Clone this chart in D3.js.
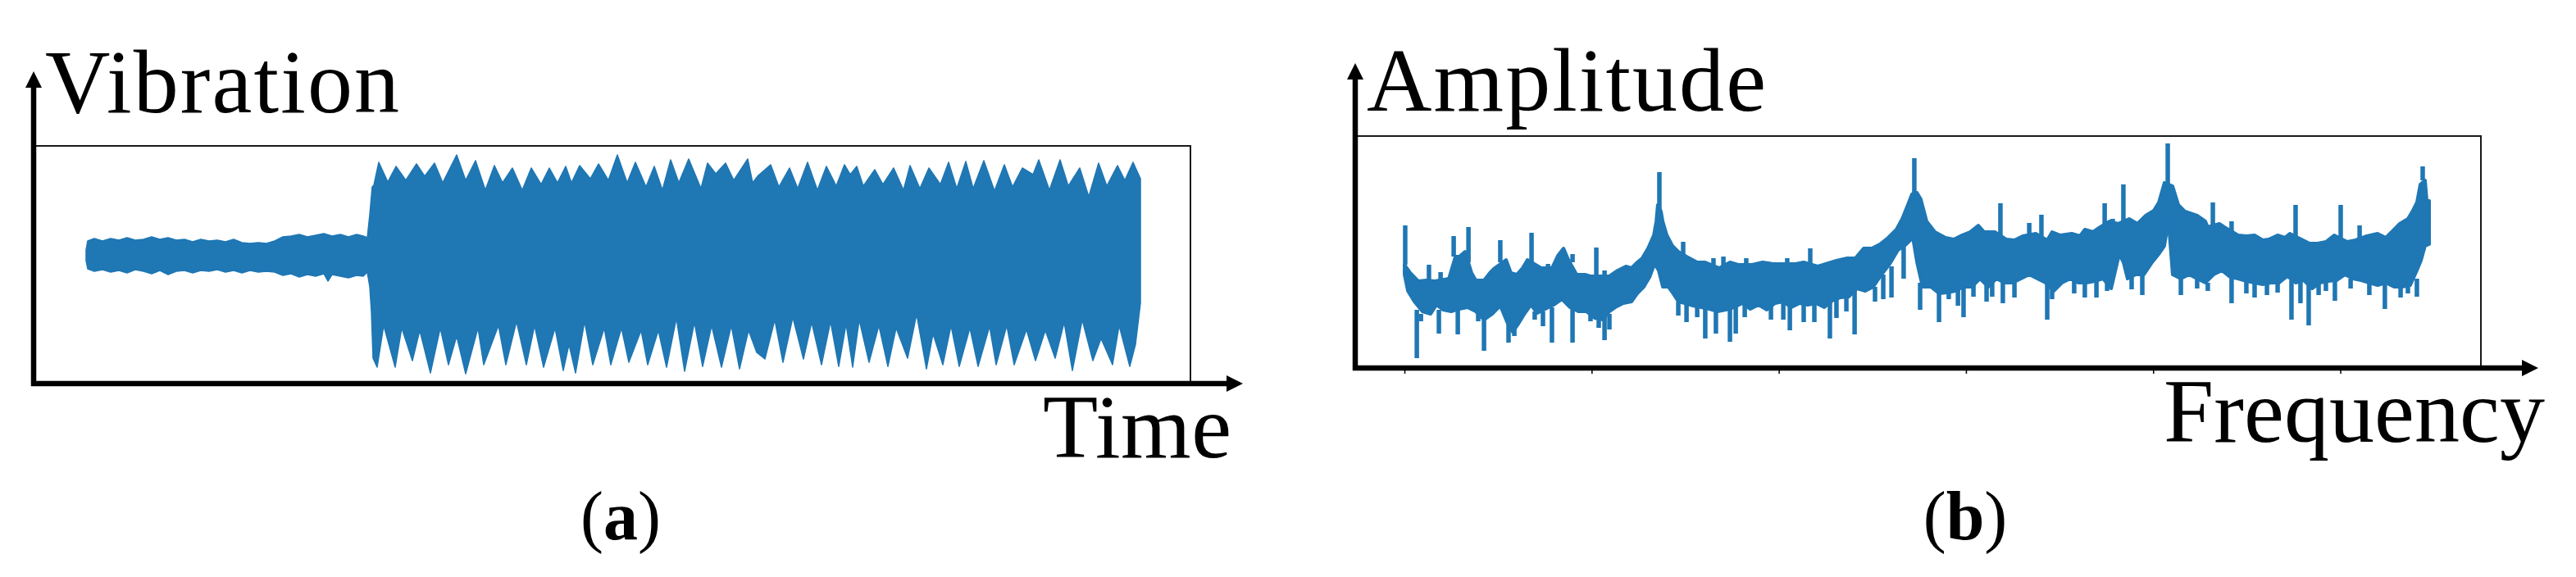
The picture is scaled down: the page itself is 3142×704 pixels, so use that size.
<!DOCTYPE html>
<html lang="en">
<head>
<meta charset="utf-8">
<title>Vibration signal and spectrum</title>
<script src="https://cdn.jsdelivr.net/npm/d3@7"></script>
<style>
	body { margin: 0; background: #fff; }
	text { fill: #000; }
	.frame { fill: none; stroke: #1a1a1a; stroke-width: 2; }
	.axisline { stroke: #000; stroke-width: 6.5; }
	.signal { fill: #1f77b4; stroke: #1f77b4; stroke-width: 1.5; stroke-linejoin: round; }
	.band { fill: #1f77b4; stroke: #1f77b4; stroke-width: 4; stroke-linejoin: round; }
	.spike { stroke: #1f77b4; stroke-width: 5.5; }
</style>
</head>
<body>
<script>

//Panel (a): vibration envelope, [time s, amplitude]
var vibUpper = [[0.00,0.16],[0.02,0.27],[0.10,0.30],[0.20,0.27],[0.30,0.30],[0.40,0.28],[0.50,0.31],[0.60,0.28],[0.70,0.29],[0.80,0.32],[0.90,0.29],[1.00,0.31],[1.10,0.28],[1.20,0.29],[1.30,0.26],[1.40,0.29],[1.50,0.27],[1.60,0.28],[1.70,0.26],[1.80,0.29],[1.90,0.25],[2.00,0.24],[2.10,0.25],[2.20,0.24],[2.30,0.27],[2.40,0.32],[2.50,0.33],[2.60,0.35],[2.70,0.32],[2.80,0.34],[2.90,0.36],[3.00,0.33],[3.10,0.35],[3.20,0.32],[3.30,0.35],[3.38,0.33],[3.43,0.31],
	[3.46,0.59],[3.49,0.93],[3.51,0.95],[3.57,1.23],[3.68,0.99],[3.78,1.18],[3.90,1.01],[4.03,1.21],[4.13,1.06],[4.25,1.22],[4.35,0.98],[4.52,1.32],[4.63,1.01],[4.75,1.25],[4.87,0.89],[4.98,1.19],[5.08,0.98],[5.20,1.16],[5.32,0.89],[5.43,1.16],[5.55,0.96],[5.65,1.16],[5.75,0.98],[5.85,1.18],[5.92,0.98],[6.02,1.19],[6.15,1.03],[6.25,1.21],[6.37,1.01],[6.48,1.32],[6.60,0.98],[6.70,1.23],[6.83,0.93],[6.93,1.18],[7.03,0.89],[7.13,1.26],[7.23,0.98],[7.35,1.27],[7.50,0.91],[7.58,1.22],[7.68,1.09],[7.80,1.22],[7.90,1.01],[8.07,1.27],[8.13,0.98],[8.20,1.07],[8.35,1.20],[8.45,0.93],[8.58,1.16],[8.68,0.91],[8.80,1.23],[8.92,0.89],[9.03,1.18],[9.15,0.94],[9.25,1.20],[9.32,1.08],[9.40,1.18],[9.48,0.94],[9.62,1.14],[9.72,0.96],[9.85,1.16],[9.97,0.89],[10.05,1.19],[10.17,0.91],[10.28,1.16],[10.42,0.96],[10.52,1.23],[10.62,0.91],[10.73,1.24],[10.82,0.91],[10.95,1.25],[11.08,0.88],[11.20,1.20],[11.30,0.93],[11.42,1.16],[11.55,1.08],[11.62,1.26],[11.75,0.89],[11.88,1.26],[11.98,0.94],[12.12,1.16],[12.23,0.81],[12.35,1.22],[12.45,0.94],[12.58,1.19],[12.67,1.01],[12.77,1.23],[12.86,1.03]];

var vibLower = [[0.00,0.03],[0.02,-0.07],[0.10,-0.10],[0.20,-0.08],[0.30,-0.11],[0.40,-0.09],[0.50,-0.12],[0.60,-0.08],[0.70,-0.10],[0.80,-0.13],[0.90,-0.09],[1.00,-0.14],[1.10,-0.10],[1.20,-0.09],[1.30,-0.12],[1.40,-0.09],[1.50,-0.10],[1.60,-0.08],[1.70,-0.11],[1.80,-0.09],[1.90,-0.12],[2.00,-0.09],[2.10,-0.11],[2.20,-0.10],[2.30,-0.11],[2.40,-0.15],[2.50,-0.13],[2.60,-0.17],[2.70,-0.14],[2.80,-0.16],[2.90,-0.13],[2.95,-0.22],[3.00,-0.14],[3.10,-0.16],[3.20,-0.18],[3.30,-0.15],[3.38,-0.16],[3.43,-0.11],
	[3.46,-0.29],[3.48,-0.59],[3.50,-1.16],[3.55,-1.27],[3.63,-0.76],[3.77,-1.27],[3.85,-0.79],[3.98,-1.19],[4.07,-0.82],[4.20,-1.34],[4.32,-0.79],[4.42,-1.24],[4.52,-0.89],[4.63,-1.35],[4.78,-0.79],[4.85,-1.24],[5.03,-0.76],[5.12,-1.24],[5.25,-0.71],[5.37,-1.24],[5.47,-0.76],[5.58,-1.27],[5.72,-0.79],[5.82,-1.31],[5.89,-0.99],[5.97,-1.34],[6.08,-0.71],[6.18,-1.24],[6.32,-0.79],[6.40,-1.24],[6.53,-0.79],[6.62,-1.21],[6.77,-0.82],[6.85,-1.24],[6.98,-0.82],[7.08,-1.27],[7.20,-0.67],[7.30,-1.32],[7.42,-0.72],[7.52,-1.26],[7.63,-0.76],[7.75,-1.27],[7.87,-0.76],[7.97,-1.29],[8.08,-0.82],[8.18,-1.09],[8.28,-1.17],[8.40,-0.69],[8.50,-1.21],[8.62,-0.66],[8.75,-1.17],[8.85,-0.72],[8.97,-1.24],[9.08,-0.71],[9.18,-1.26],[9.27,-0.74],[9.35,-1.27],[9.43,-0.69],[9.55,-1.21],[9.67,-0.76],[9.78,-1.26],[9.88,-0.79],[10.02,-1.16],[10.13,-0.62],[10.25,-1.29],[10.33,-0.86],[10.45,-1.24],[10.55,-0.76],[10.65,-1.26],[10.78,-0.79],[10.88,-1.26],[11.02,-0.77],[11.10,-1.24],[11.23,-0.76],[11.32,-1.24],[11.47,-0.81],[11.58,-1.19],[11.70,-0.82],[11.82,-1.16],[11.93,-0.72],[12.03,-1.31],[12.15,-0.69],[12.28,-1.19],[12.38,-0.92],[12.52,-1.24],[12.60,-0.76],[12.73,-1.26],[12.80,-0.99],[12.86,-0.49]];

//Panel (b): spectrum band, [frequency Hz, amplitude dB]
var specTop = [[0,12.6],[31,11.6],[74,10.6],[118,10.7],[162,10.6],[237,10.9],[272,13.6],[293,13.6],[324,14.2],[359,11.6],[381,10.7],[425,10.7],[456,11.6],[482,12.2],[543,13.2],[569,11.6],[600,11.4],[631,12.2],[657,13.2],[701,12.6],[731,12.2],[788,12.2],[819,13.7],[850,14.6],[876,13.2],[920,11.4],[964,11.4],[994,11.2],[1047,11.2],[1095,11.2],[1139,11.9],[1183,12.4],[1213,12.2],[1244,12.9],[1270,13.4],[1301,14.6],[1332,16.2],[1345,17.9],[1353,19.9],[1371,19.1],[1380,17.9],[1402,16.2],[1432,14.9],[1463,14.2],[1507,13.6],[1564,12.9],[1607,12.9],[1682,12.2],[1739,12.9],[1783,12.6],[1857,12.6],[1914,12.9],[1971,12.7],[2045,12.7],[2089,12.7],[2133,12.9],[2208,12.4],[2308,13.1],[2365,13.4],[2409,13.4],[2453,14.6],[2497,14.6],[2540,15.1],[2584,15.9],[2628,16.9],[2659,18.2],[2689,19.9],[2711,21.2],[2738,21.4],[2759,20.6],[2790,17.9],[2834,16.6],[2891,15.9],[2935,15.7],[2978,16.2],[3022,16.6],[3066,17.4],[3097,16.6],[3154,16.6],[3215,15.7],[3259,15.6],[3303,16.1],[3373,16.4],[3434,15.6],[3460,16.6],[3504,16.2],[3565,16.4],[3609,16.1],[3635,16.9],[3679,16.6],[3710,17.1],[3767,17.9],[3811,17.6],[3872,18.2],[3916,17.6],[3960,18.6],[4003,19.2],[4030,20.2],[4060,22.6],[4104,22.2],[4135,19.9],[4170,19.1],[4235,18.6],[4279,17.9],[4292,17.2],[4354,17.6],[4380,17.2],[4454,16.2],[4498,16.1],[4542,16.2],[4586,15.6],[4617,15.7],[4665,16.2],[4704,15.9],[4730,16.4],[4792,15.7],[4836,15.2],[4879,15.2],[4923,15.4],[4967,16.2],[5037,15.4],[5081,15.6],[5142,16.1],[5199,16.4],[5243,15.9],[5287,16.9],[5317,17.6],[5361,18.2],[5387,19.2],[5409,20.2],[5427,22.4],[5453,22.9],[5462,20.4],[5475,20.4]];

var specBottom = [[0,11.4],[18,9.4],[53,8.1],[96,6.9],[140,6.6],[171,7.7],[206,7.1],[250,6.9],[293,7.2],[337,7.4],[381,6.9],[425,5.9],[469,6.6],[512,7.6],[548,5.6],[578,4.4],[609,5.4],[644,6.7],[675,7.7],[710,6.7],[753,7.2],[797,7.7],[841,8.4],[885,7.4],[929,6.9],[972,6.9],[1016,6.1],[1060,5.9],[1095,6.9],[1126,7.4],[1169,7.9],[1213,8.1],[1244,9.1],[1279,9.9],[1310,11.1],[1336,12.7],[1358,11.9],[1380,9.9],[1410,9.9],[1432,9.2],[1463,8.1],[1498,7.9],[1542,7.6],[1586,7.4],[1629,7.2],[1673,6.9],[1717,7.1],[1761,7.4],[1805,7.9],[1848,7.2],[1892,7.7],[1936,7.1],[1980,7.9],[2024,8.1],[2067,7.4],[2111,7.9],[2155,7.7],[2199,7.9],[2243,7.4],[2286,8.2],[2330,8.6],[2374,8.7],[2418,9.7],[2462,9.4],[2505,9.9],[2549,11.4],[2593,12.7],[2637,14.4],[2681,15.1],[2716,15.9],[2738,12.9],[2768,9.9],[2812,9.9],[2856,9.1],[2900,9.2],[2943,9.4],[2987,9.9],[3031,9.9],[3075,10.9],[3119,9.9],[3162,10.9],[3206,10.4],[3250,10.4],[3294,10.9],[3338,11.4],[3381,10.9],[3425,10.4],[3469,9.4],[3513,10.4],[3557,10.9],[3600,10.4],[3644,10.4],[3688,10.6],[3732,10.9],[3776,9.7],[3819,13.9],[3841,12.9],[3863,10.9],[3907,11.4],[3951,11.4],[3995,12.9],[4030,13.9],[4060,14.9],[4082,17.9],[4104,11.4],[4148,10.9],[4192,11.4],[4235,10.9],[4279,10.4],[4323,11.4],[4367,11.9],[4411,11.1],[4454,10.9],[4498,10.6],[4542,10.4],[4586,10.2],[4630,10.4],[4673,10.4],[4717,11.2],[4761,10.4],[4805,10.7],[4849,9.7],[4892,10.4],[4936,10.6],[4980,10.7],[5024,11.4],[5068,10.9],[5111,10.7],[5155,10.4],[5199,10.1],[5243,10.4],[5287,9.9],[5330,9.9],[5374,10.1],[5409,11.9],[5431,13.1],[5453,14.9],[5475,15.1]];

//narrow lines sticking out of the band, [frequency, base, tip]
var specPeaks = [[4,12.6,17.4],[131,10.7,12.6],[193,10.6,11.7],[263,13.6,16.1],[342,12.9,17.2],[512,12.9,15.6],[679,12.9,16.5],[767,12.2,12.7],[898,12.9,13.9],[1025,11.2,14.7],[1069,11.2,11.9],[1362,18.9,23.9],[1489,13.6,15.4],[1651,12.4,13.4],[1704,12.4,13.6],[1826,12.4,13.4],[2045,12.4,13.4],[2168,12.4,14.6],[2724,21.2,25.6],[3184,15.7,20.1],[3338,16.1,17.7],[3403,15.9,18.7],[3741,17.1,20.1],[3784,17.4,18.2],[3841,17.7,22.4],[4078,22.4,27.4],[4319,17.2,20.2],[4419,16.4,17.9],[4761,16.1,19.9],[5002,15.9,19.9],[5103,15.6,17.4],[5440,22.9,24.6]];

var specDips = [[66,7.1,1.2],[88,6.6,5.7],[184,7.1,4.2],[285,7.2,4.1],[394,6.9,5.7],[425,6.4,2.1],[556,5.4,3.1],[587,4.9,3.9],[696,6.9,5.9],[740,6.9,5.1],[788,7.4,3.1],[898,7.4,3.1],[994,6.6,5.7],[1038,6.4,4.9],[1069,6.4,3.4],[1095,6.6,4.7],[1463,8.1,6.4],[1507,7.9,5.6],[1564,7.4,6.2],[1607,7.3,3.6],[1664,7.1,4.2],[1739,7.2,3.2],[1770,7.4,4.2],[1818,7.7,6.2],[1958,7.9,5.9],[2024,8.1,5.9],[2059,7.7,4.6],[2133,7.7,5.6],[2190,7.9,5.6],[2273,7.9,3.6],[2308,8.4,6.1],[2361,8.7,6.9],[2405,9.4,4.1],[2514,9.9,8.1],[2558,11.4,8.4],[2602,12.4,8.6],[2667,14.9,10.9],[2755,10.4,7.1],[2856,9.4,5.6],[2908,9.7,8.4],[2957,9.7,7.6],[2987,9.7,6.2],[3040,10.4,8.7],[3110,10.1,8.1],[3140,10.4,8.7],[3197,10.6,7.9],[3259,10.4,8.6],[3434,10.4,5.9],[3460,9.9,8.4],[3578,10.7,9.1],[3635,10.4,8.6],[3697,10.6,8.6],[3754,10.4,9.4],[3885,11.4,9.6],[3942,11.4,8.9],[4148,10.9,8.9],[4235,10.9,9.7],[4292,10.4,9.4],[4419,11.1,7.9],[4498,10.6,9.1],[4542,10.4,8.6],[4608,10.2,8.9],[4665,10.4,9.2],[4739,10.7,5.9],[4787,10.6,7.9],[4831,10.4,5.2],[4884,10.2,8.9],[4923,10.6,9.4],[4971,10.7,8.2],[5055,10.9,9.7],[5155,10.4,8.9],[5238,10.4,7.2],[5322,9.9,8.6],[5361,10.1,9.1],[5409,10.9,8.7]];

var freqTicks = [0, 1000, 2000, 3000, 4000, 5000];

var w = 3142;
var h = 704;
var serif = "'Liberation Serif', 'DejaVu Serif', serif";

var svg = d3.select("body")
	.append("svg")
	.attr("width", w)
	.attr("height", h);

//Scales
var xA = d3.scaleLinear().domain([-0.64, 13.47]).range([41, 1452]);
var yA = d3.scaleLinear().domain([-1.47, 1.43]).range([468, 178]);
var xB = d3.scaleLinear().domain([-263, 5751]).range([1653, 3026]);
var yB = d3.scaleLinear().domain([0, 28.3]).range([449, 166]);

//Frames
svg.append("rect").attr("class", "frame")
	.attr("x", xA.range()[0]).attr("y", yA.range()[1])
	.attr("width", xA.range()[1] - xA.range()[0])
	.attr("height", yA.range()[0] - yA.range()[1]);

svg.append("rect").attr("class", "frame")
	.attr("x", xB.range()[0]).attr("y", yB.range()[1])
	.attr("width", xB.range()[1] - xB.range()[0])
	.attr("height", yB.range()[0] - yB.range()[1]);

//Vibration: upper envelope forward, lower envelope back
var lineA = d3.line()
	.x(function(d) { return xA(d[0]); })
	.y(function(d) { return yA(d[1]); });

svg.append("path")
	.attr("class", "signal")
	.attr("d", lineA(vibUpper.concat(vibLower.slice().reverse())) + "Z");

//Spectrum band
var lineB = d3.line()
	.x(function(d) { return xB(d[0]); })
	.y(function(d) { return yB(d[1]); });

svg.append("path")
	.attr("class", "band")
	.attr("d", lineB(specTop.concat(specBottom.slice().reverse())) + "Z");

svg.selectAll("line.spike")
	.data(specPeaks.concat(specDips))
	.enter()
	.append("line")
	.attr("class", "spike")
	.attr("x1", function(d) { return xB(d[0]); })
	.attr("x2", function(d) { return xB(d[0]); })
	.attr("y1", function(d) { return yB(d[1]); })
	.attr("y2", function(d) { return yB(d[2]); });

//Frequency ticks, no labels
var axisB = d3.axisBottom(xB)
	.tickValues(freqTicks)
	.tickSize(5)
	.tickFormat("");

var gB = svg.append("g")
	.attr("transform", "translate(0," + (yB.range()[0] + 2) + ")")
	.call(axisB);
gB.select(".domain").remove();
gB.selectAll(".tick line").attr("stroke", "#000").attr("stroke-width", 1.5);

//Arrow axes
function arrowAxes(x0, y0, yTop, xRight) {
	svg.append("line").attr("class", "axisline")
		.attr("x1", x0).attr("y1", y0 + 3)
		.attr("x2", x0).attr("y2", yTop + 18);
	svg.append("line").attr("class", "axisline")
		.attr("x1", x0 - 3).attr("y1", y0)
		.attr("x2", xRight - 18).attr("y2", y0);
	svg.append("path")
		.attr("d", "M" + x0 + "," + yTop + "L" + (x0 - 10) + "," + (yTop + 20) + "L" + (x0 + 10) + "," + (yTop + 20) + "Z")
		.attr("fill", "#000");
	svg.append("path")
		.attr("d", "M" + xRight + "," + y0 + "L" + (xRight - 20) + "," + (y0 - 10) + "L" + (xRight - 20) + "," + (y0 + 10) + "Z")
		.attr("fill", "#000");
}

arrowAxes(41, 468, 87, 1516);
arrowAxes(1653, 449, 77, 3096);

//Labels
function label(txt, x, y, len) {
	svg.append("text")
		.attr("x", x).attr("y", y)
		.attr("font-family", serif)
		.attr("font-size", 110)
		.attr("textLength", len)
		.text(txt);
}

label("Vibration", 55, 137, 432);
label("Amplitude", 1667, 135, 487);
label("Time", 1272, 558, 230);
label("Frequency", 2639, 539, 465);

function caption(letter, cx) {
	var t = svg.append("text")
		.attr("x", cx).attr("y", 658)
		.attr("font-family", serif)
		.attr("font-size", 84)
		.attr("text-anchor", "middle");
	t.append("tspan").text("(");
	t.append("tspan").attr("font-weight", "bold").text(letter);
	t.append("tspan").text(")");
}

caption("a", 757);
caption("b", 2397);

</script>
</body>
</html>
